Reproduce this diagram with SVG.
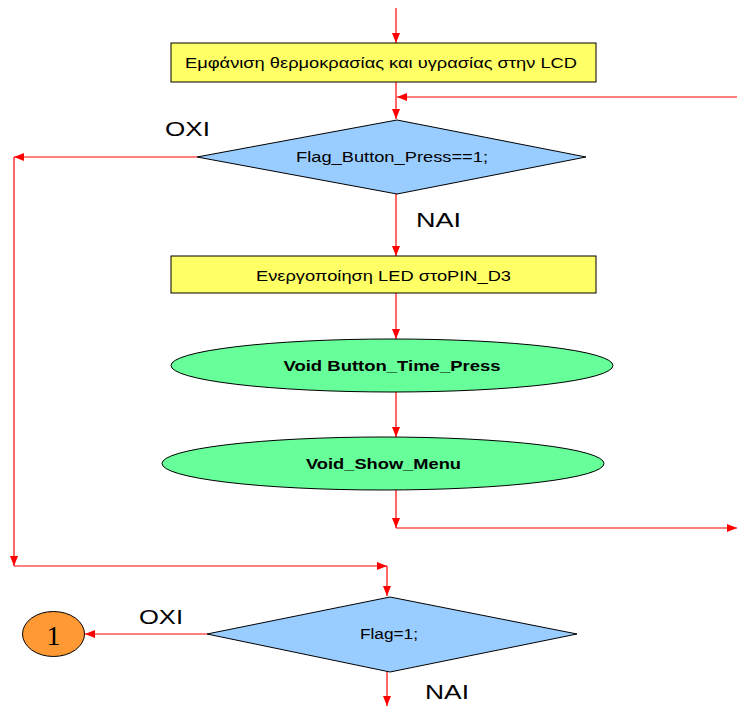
<svg xmlns="http://www.w3.org/2000/svg" width="737" height="707" viewBox="0 0 737 707">
<style>
.c{stroke:#ff0000;stroke-width:1.2;fill:none;marker-end:url(#ah)}
.t{font-family:"Liberation Sans",Arial,sans-serif;fill:#000}
.rect{fill:#ffff66;stroke:#000;stroke-width:1}
.dia{fill:#99ccff;stroke:#000;stroke-width:1}
.ell{fill:#66ff99;stroke:#000;stroke-width:1}
</style>
<defs>
<marker id="ah" markerUnits="userSpaceOnUse" markerWidth="10" markerHeight="8" refX="10" refY="4" orient="auto">
<path d="M0,0 L10,4 L0,8 z" fill="#ff0000"/>
</marker>
</defs>
<rect width="737" height="707" fill="#fff"/>
<g id="connectors">
<line class="c" x1="396" y1="8" x2="396" y2="43"/>
<line class="c" x1="396" y1="82" x2="396" y2="119"/>
<line class="c" x1="737" y1="97" x2="397" y2="97"/>
<line class="c" x1="396" y1="194" x2="396" y2="256"/>
<line class="c" x1="396" y1="293" x2="396" y2="339"/>
<line class="c" x1="396" y1="392" x2="396" y2="437"/>
<line class="c" x1="396" y1="490" x2="396" y2="528"/>
<line class="c" x1="396" y1="528" x2="737" y2="528"/>
<line class="c" x1="197" y1="157" x2="14" y2="157"/>
<line class="c" x1="14" y1="157" x2="14" y2="566"/>
<line class="c" x1="14" y1="566" x2="387" y2="566"/>
<line class="c" x1="387" y1="566" x2="387" y2="596"/>
<line class="c" x1="207" y1="634" x2="85" y2="634"/>
<line class="c" x1="387" y1="672" x2="387" y2="706"/>
</g>
<g id="n_lcd">
<rect class="rect" x="171" y="43" width="425" height="39"/>
<text class="t" x="381" y="68" font-size="15" text-anchor="middle" textLength="392" lengthAdjust="spacingAndGlyphs">Εμφάνιση θερμοκρασίας και υγρασίας στην LCD</text>
</g>
<g id="n_dec1">
<polygon class="dia" points="397,120 586,157 397,194 197,157"/>
<text class="t" x="392" y="162" font-size="14" text-anchor="middle" textLength="192" lengthAdjust="spacingAndGlyphs">Flag_Button_Press==1;</text>
</g>
<g id="l_oxi1"><text class="t" x="165" y="136" font-size="20" textLength="45" lengthAdjust="spacingAndGlyphs">OXI</text></g>
<g id="l_nai1"><text class="t" x="416" y="227" font-size="20" textLength="45" lengthAdjust="spacingAndGlyphs">NAI</text></g>
<g id="n_led">
<rect class="rect" x="171" y="256" width="425" height="37"/>
<text class="t" x="383.5" y="281" font-size="15" text-anchor="middle" textLength="255" lengthAdjust="spacingAndGlyphs">Ενεργοποίηση LED στοPIN_D3</text>
</g>
<g id="n_btn">
<ellipse class="ell" cx="392" cy="365.5" rx="221" ry="26.5"/>
<text class="t" x="392" y="371" font-size="15" font-weight="bold" text-anchor="middle" textLength="217" lengthAdjust="spacingAndGlyphs">Void Button_Time_Press</text>
</g>
<g id="n_menu">
<ellipse class="ell" cx="383" cy="463.5" rx="221" ry="26.5"/>
<text class="t" x="383.5" y="469" font-size="15" font-weight="bold" text-anchor="middle" textLength="155" lengthAdjust="spacingAndGlyphs">Void_Show_Menu</text>
</g>
<g id="n_dec2">
<polygon class="dia" points="390,597 577,634 390,672 207,634"/>
<text class="t" x="389" y="639" font-size="14" text-anchor="middle" textLength="58" lengthAdjust="spacingAndGlyphs">Flag=1;</text>
</g>
<g id="l_oxi2"><text class="t" x="139" y="624" font-size="20" textLength="44" lengthAdjust="spacingAndGlyphs">OXI</text></g>
<g id="l_nai2"><text class="t" x="425" y="699" font-size="20" textLength="44" lengthAdjust="spacingAndGlyphs">NAI</text></g>
<g id="n_one">
<ellipse cx="53.5" cy="634" rx="31" ry="22.5" fill="#ff9933" stroke="#000" stroke-width="1"/>
<text x="53.5" y="645" font-family="'Liberation Serif','Times New Roman',serif" font-size="28" text-anchor="middle">1</text>
</g>
</svg>
